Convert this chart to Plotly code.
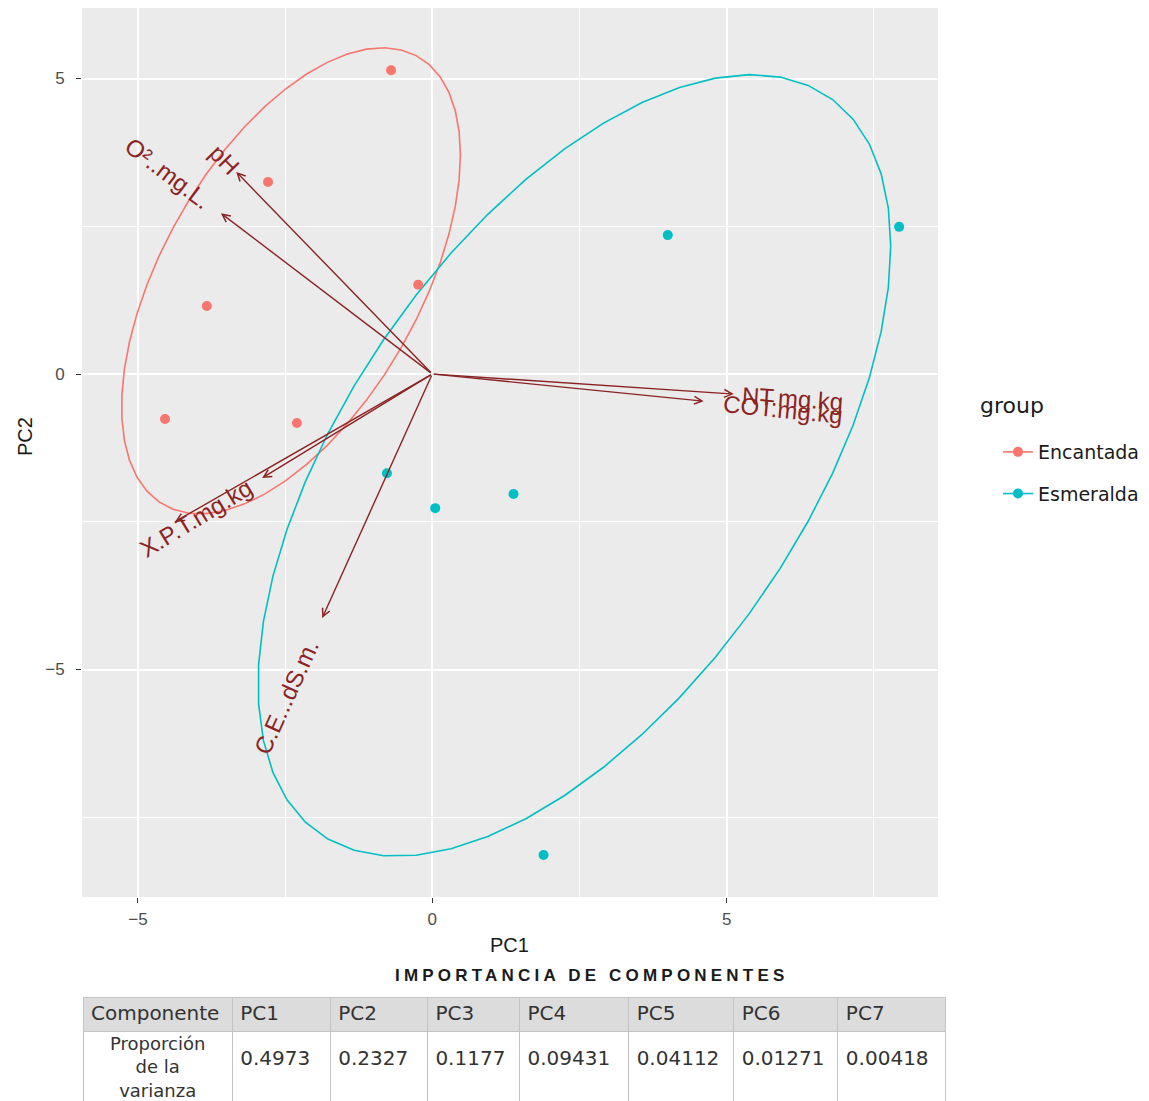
import numpy as np
import plotly.graph_objects as go

# ---------------- data ----------------
groups = ["Encantada", "Esmeralda"]
group_colors = ["#F8766D", "#00BFC4"]

enc_pc1 = [-0.70, -2.79, -3.83, -0.24, -4.54, -2.30]
enc_pc2 = [5.14, 3.25, 1.15, 1.51, -0.76, -0.83]
esm_pc1 = [4.00, 7.93, -0.77, 0.05, 1.38, 1.89]
esm_pc2 = [2.35, 2.49, -1.68, -2.27, -2.03, -8.14]

var_names = ["pH", "O²..mg.L.", "NT.mg.kg", "COT.mg.kg", "X.P.T.mg.kg", "", "C.E...dS.m."]
var_pc1 = [-3.33, -3.59, 5.12, 4.61, -2.89, -4.37, -1.87]
var_pc2 = [3.42, 2.72, -0.34, -0.46, -1.76, -2.50, -4.13]

table_title = "IMPORTANCIA DE COMPONENTES"
row_header = "Componente"
row_label = ["Proporción", "de la", "varianza"]
components = ["PC1", "PC2", "PC3", "PC4", "PC5", "PC6", "PC7"]
prop_var = [0.4973, 0.2327, 0.1177, 0.09431, 0.04112, 0.01271, 0.00418]

x_ticks = [-5, 0, 5]
y_ticks = [-5, 0, 5]

# ---------------- layout helpers ----------------
OFF = 8                      # page body margin
W, H = 1141, 1101


def px(xr):
    return min(max((xr - OFF) / W, 0), 1)


def py(yr):
    return min(max(1 - (yr - OFF) / H, 0), 1)


PX_PER_UNIT = 58.9
label_offsets_px = [17, 66, 59, 80, 78, 0, 86]
ARROW_COL = "#8B2323"
FONT = "Liberation Sans, Arial, sans-serif"
WFONT = "DejaVu Sans, sans-serif"
LEVEL = 0.68

fig = go.Figure()

# ellipses: normal data ellipse (cov.wt), radius sqrt(2*qf(level, 2, n-1))
seg = 51
ang = np.arange(seg + 1) * 2 * np.pi / seg
unit_circle = np.column_stack([np.cos(ang), np.sin(ang)])

group_data = [(enc_pc1, enc_pc2), (esm_pc1, esm_pc2)]
for g, col, (gx, gy) in zip(groups, group_colors, group_data):
    m = np.column_stack([gx, gy])
    n = m.shape[0]
    d = n - 1
    qf = d / 2 * ((1 - LEVEL) ** (-2 / d) - 1)
    radius = np.sqrt(2 * qf)
    sigma = np.cov(m, rowvar=False)
    U = np.linalg.cholesky(sigma).T
    ell = m.mean(axis=0) + radius * (unit_circle @ U)
    fig.add_trace(go.Scatter(x=ell[:, 0], y=ell[:, 1], mode="lines",
                             line=dict(color=col, width=1.6),
                             showlegend=False, hoverinfo="skip", legendgroup=g))

# arrows
for vx, vy in zip(var_pc1, var_pc2):
    fig.add_annotation(x=vx, y=vy, ax=0, ay=0, xref="x", yref="y", axref="x", ayref="y",
                       showarrow=True, arrowhead=5, arrowsize=1.1, arrowwidth=1.4,
                       arrowcolor=ARROW_COL, text="")

# arrow labels
for name, vx, vy, off in zip(var_names, var_pc1, var_pc2, label_offsets_px):
    if not name:
        continue
    r = np.hypot(vx, vy)
    ux, uy = vx / r, vy / r
    cx = vx + ux * off / PX_PER_UNIT
    cy = vy + uy * off / PX_PER_UNIT
    a = -np.degrees(np.arctan(vy / vx))
    fig.add_annotation(x=cx, y=cy, xref="x", yref="y", text=name, showarrow=False,
                       textangle=a, xanchor="center", yanchor="middle",
                       font=dict(family=FONT, size=24, color=ARROW_COL))

# points (gaps so the legend key shows line + point)
for g, col, (gx, gy) in zip(groups, group_colors, group_data):
    xs, ys = [], []
    for a, b in zip(gx, gy):
        xs += [a, None]
        ys += [b, None]
    fig.add_trace(go.Scatter(x=xs, y=ys, mode="lines+markers", name=g, legendgroup=g,
                             marker=dict(color=col, size=10),
                             line=dict(color=col, width=1.6), connectgaps=False))

# table
fig.add_trace(go.Table(
    domain=dict(x=[px(83), px(946)], y=[0, py(997)]),
    columnwidth=[149, 98, 97, 92, 109, 105, 104, 108],
    header=dict(values=[row_header] + components, fill_color="#DCDCDC",
                line_color="#C4C4C4", align="left", height=34,
                font=dict(family=WFONT, size=20, color="#333333")),
    cells=dict(values=[[" <br> <br> "]] + [["<br>" + str(v)] for v in prop_var],
               fill_color="white", line_color="#C4C4C4",
               align="left", height=72,
               font=dict(family=WFONT, size=[18] + [20] * 7, color="#333333")),
))
# centred multi-line row label for the first column
fig.add_annotation(x=px(157), y=py(1067), xref="paper", yref="paper",
                   text="<br>".join(row_label), align="center",
                   xanchor="center", yanchor="middle", showarrow=False,
                   font=dict(family=WFONT, size=18, color="#333333"))

axis_common = dict(showgrid=True, gridcolor="white", gridwidth=1.8, zeroline=False,
                   ticks="outside", ticklen=5, tickcolor="#333333", tickwidth=1,
                   tickfont=dict(family=FONT, size=17, color="#4D4D4D"),
                   showline=False)

Y_TOP_PX = 8
Y_BOT_PX = 897
Y0_PX = 374
Y_UNIT = 59.1

fig.update_layout(
    width=W, height=H,
    margin=dict(l=0, r=0, t=0, b=0),
    paper_bgcolor="white", plot_bgcolor="#EBEBEB",
    font=dict(family=FONT),
    xaxis=dict(domain=[px(82), px(938)], range=[-5.95, 8.59], tickvals=x_ticks,
               ticktext=["−5", "0", "5"], ticklabelstandoff=2,
               minor=dict(dtick=2.5, tick0=0, showgrid=True, gridcolor="white", gridwidth=0.8, ticks=""),
               **axis_common),
    yaxis=dict(domain=[py(Y_BOT_PX), py(Y_TOP_PX)],
               range=[(Y0_PX - Y_BOT_PX) / Y_UNIT, (Y0_PX - Y_TOP_PX) / Y_UNIT],
               tickvals=y_ticks, ticktext=["−5", "0", "5"], ticklabelstandoff=8,
               minor=dict(dtick=2.5, tick0=0, showgrid=True, gridcolor="white", gridwidth=0.8, ticks=""),
               **axis_common),
    legend=dict(x=px(998), y=py(433), xanchor="left", yanchor="top",
                font=dict(family=WFONT, size=19, color="#1A1A1A"),
                tracegroupgap=14, bgcolor="rgba(0,0,0,0)"),
)

fig.add_annotation(x=px(1012), y=py(405), xref="paper", yref="paper", text="group",
                   xanchor="center", yanchor="middle", showarrow=False,
                   font=dict(family=WFONT, size=22, color="#1A1A1A"))
fig.add_annotation(x=px(510), y=py(945), xref="paper", yref="paper", text="PC1",
                   xanchor="center", yanchor="middle", showarrow=False,
                   font=dict(family=FONT, size=20, color="#1A1A1A"))
fig.add_annotation(x=px(25), y=py(437), xref="paper", yref="paper", text="PC2",
                   xanchor="center", yanchor="middle", showarrow=False, textangle=-90,
                   font=dict(family=FONT, size=20, color="#1A1A1A"))
fig.add_annotation(x=px(592), y=py(975), xref="paper", yref="paper",
                   text='<span style="letter-spacing:4.2px"><b>' + table_title + '</b></span>',
                   xanchor="center", yanchor="middle", showarrow=False,
                   font=dict(family=FONT, size=17, color="#1A1A1A"))

fig.write_html("out.html")
